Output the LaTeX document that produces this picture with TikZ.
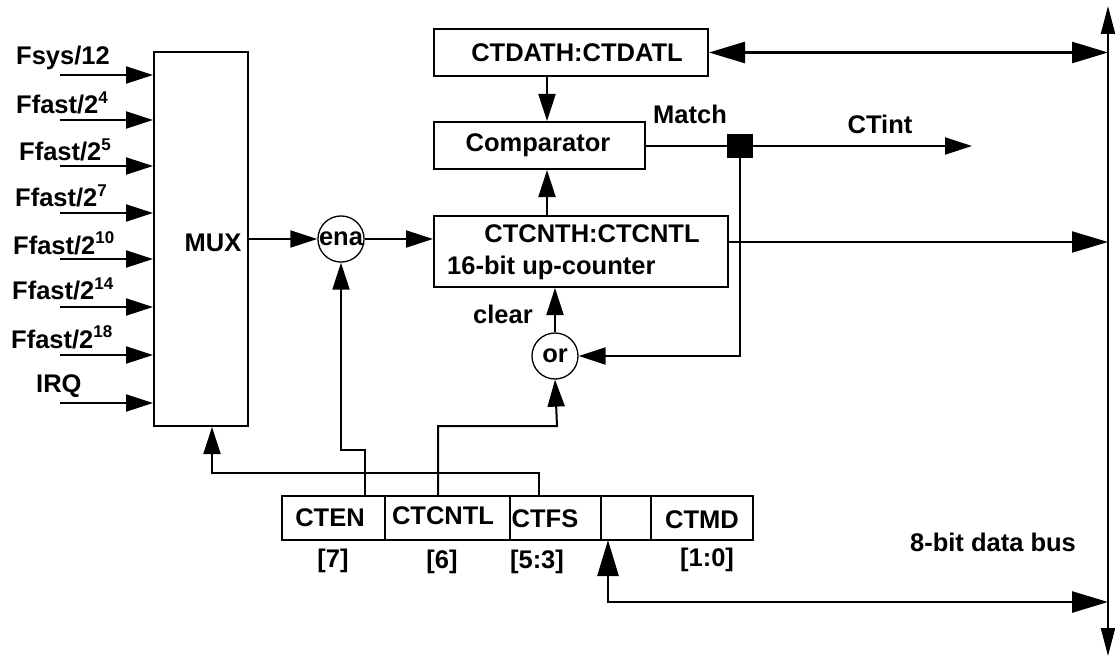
\documentclass[tikz,border=0pt]{standalone}
\usepackage{fontspec}
\setmainfont{Liberation Sans}
\usetikzlibrary{arrows.meta}
\newcommand{\sx}[1]{\raisebox{0.42em}{\fontsize{17}{17}\selectfont #1}}
\begin{document}
\begin{tikzpicture}[x=1pt,y=-1pt,
  every node/.style={font=\fontsize{25.5}{29}\selectfont\bfseries},
  wire/.style={line width=2pt},
  arr/.style={wire,-{Triangle[length=27pt,width=17pt]}},
  barr/.style={line width=2.6pt,-{Triangle[length=36pt,width=21pt]}},
  dbarr/.style={line width=2.6pt,{Triangle[length=36pt,width=21pt]}-{Triangle[length=36pt,width=21pt]}},
  vbarr/.style={line width=2.2pt,{Triangle[length=28pt,width=14pt]}-{Triangle[length=28pt,width=14pt]}},
  box/.style={draw,line width=2pt,inner sep=0pt,anchor=center},
  gate/.style={draw,circle,line width=1.3pt,minimum size=46pt,inner sep=0pt},
  lbl/.style={inner sep=0pt},
  cell/.style={box,minimum height=44pt}]
\useasboundingbox (0,0) rectangle (1115,658);

% boxes
\node[box,minimum width=94pt,minimum height=374pt] (mux) at (201,239) {};
\node[lbl] (muxt) at (213,243) {MUX};
\node[box,minimum width=274pt,minimum height=47pt] (dat) at (571,52.5) {};
\node[lbl] (datt) at (577,53) {CTDATH:CTDATL};
\node[box,minimum width=211pt,minimum height=47pt] (cmp) at (539.5,145.5) {};
\node[lbl] (cmpt) at (538,145) {Comparator};
\node[box,minimum width=294pt,minimum height=71pt] (cnt) at (581,251.5) {};
\node[lbl] (cntt) at (592,234) {CTCNTH:CTCNTL};
\node[lbl,anchor=west] (cntb) at (447,268) {16-bit up-counter};
\node[gate] (ena) at (341,239) {ena};
\node[gate] (or) at (555,356) {or};
\node[draw,fill=black,minimum width=25pt,minimum height=23pt,inner sep=0pt] (sq) at (740,146) {};

% register
\node[cell,minimum width=103pt] (cten) at (333.5,518) {};
\node[cell,minimum width=125pt] (ctcntl) at (447.5,518) {};
\node[cell,minimum width=91pt] (ctfs) at (555.5,518) {};
\node[cell,minimum width=50pt] (blank) at (626,518) {};
\node[cell,minimum width=102pt] (ctmd) at (702,518) {};
\node[lbl] (ctent) at (330,518) {CTEN};
\node[lbl] (ctcntlt) at (443,516) {CTCNTL};
\node[lbl] (ctfst) at (545,519) {CTFS};
\node[lbl] (ctmdt) at (702,520) {CTMD};
\node[lbl] (b7) at (333,561) {[7]};
\node[lbl] (b6) at (442,562) {[6]};
\node[lbl] (b53) at (537,562) {[5:3]};
\node[lbl] (b10) at (707,560) {[1:0]};

% labels
\node[lbl,anchor=west] (l1) at (16,58) {Fsys/12};
\node[lbl,anchor=west] (l2) at (16,103) {Ffast/2\sx{4}};
\node[lbl,anchor=west] (l3) at (19,150) {Ffast/2\sx{5}};
\node[lbl,anchor=west] (l4) at (15,196) {Ffast/2\sx{7}};
\node[lbl,anchor=west] (l5) at (13,243) {Ffast/2\sx{10}};
\node[lbl,anchor=west] (l6) at (12,289) {Ffast/2\sx{14}};
\node[lbl,anchor=west] (l7) at (11,337) {Ffast/2\sx{18}};
\node[lbl,anchor=west] (l8) at (36,386) {IRQ};
\node[lbl] (match) at (690,114) {Match};
\node[lbl] (ctintl) at (880,124) {CTint};
\node[lbl] (clear) at (503,314) {clear};
\node[lbl] (busl) at (993,542) {8-bit data bus};

% inputs
\foreach \i/\y in {1/75,2/120,3/166,4/213,5/259,6/307,7/355,8/403}{
  \coordinate (in\i) at (60,\y);
  \draw[arr] (in\i) -- (in\i -| mux.west);
}

% coordinates
\coordinate (busTop) at (1108,6);
\coordinate (busBot) at (1108,656);
\coordinate (ax) at (547,0);
\coordinate (ctint) at (972,146);
\coordinate (cntout) at (728,242);
\coordinate (enaA) at (365,450);
\coordinate (enaB) at (341,450);
\coordinate (orA) at (438,426);
\coordinate (orB) at (557,426);
\coordinate (muxA) at (539,473);
\coordinate (muxB) at (212,473);
\coordinate (regIn) at (608,540);
\coordinate (regB) at (608,602);

% connectors
\draw[arr] (mux.east |- ena) -- (ena.west);
\draw[arr] (ena.east) -- (ena.east -| cnt.west);
\draw[arr] (dat.south -| ax) -- (cmp.north -| ax);
\draw[arr] (cnt.north -| ax) -- (cmp.south -| ax);
\draw[wire] (cmp.east |- sq) -- (sq.west);
\draw[arr] (sq.east) -- (ctint);
\draw[arr] (sq.south) -- (sq |- or.east) -- (or.east);
\draw[arr] (or.north) -- (or.north |- cnt.south);
\draw[vbarr] (busBot) -- (busTop);
\draw[dbarr] (dat.east) -- (dat.east -| busTop);
\draw[barr,line width=2pt] (cntout) -- (cntout -| busTop);
\draw[arr] (cten.north -| enaA) -- (enaA) -- (enaB) -- (ena.south);
\draw[arr] (ctcntl.north -| orA) -- (orA) -- (orB) -- (or.south);
\draw[arr] (ctfs.north -| muxA) -- (muxA) -- (muxB) -- (mux.south -| muxB);
\draw[dbarr] (regIn) -- (regB) -- (regB -| busTop);
\end{tikzpicture}
\end{document}
